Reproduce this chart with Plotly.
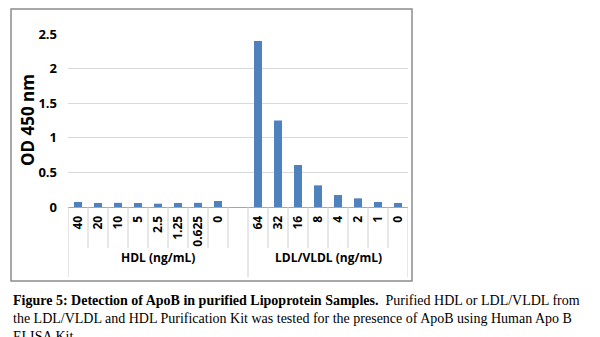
import plotly.graph_objects as go

hdl_labels = ["40", "20", "10", "5", "2.5", "1.25", "0.625", "0"]
hdl_values = [0.072, 0.058, 0.06, 0.058, 0.048, 0.058, 0.06, 0.087]
ldl_labels = ["64", "32", "16", "8", "4", "2", "1", "0"]
ldl_values = [2.40, 1.25, 0.607, 0.313, 0.173, 0.125, 0.072, 0.058]
group_labels = ["HDL (ng/mL)", "LDL/VLDL (ng/mL)"]
y_ticks = [0, 0.5, 1, 1.5, 2, 2.5]
y_ticktext = ["0", "0.5", "1", "1.5", "2", "2.5"]

# category slots: HDL (8), one blank slot, LDL (8)
n_h = len(hdl_labels)
x_h = list(range(n_h))
x_l = [n_h + 1 + i for i in range(len(ldl_labels))]
n_slots = n_h + 1 + len(ldl_labels)

W, H = 600, 337
L, R, T, B = 68, 192, 34, 130
pw, ph = W - L - R, H - T - B

def px_x(p):
    return (p - L) / pw

def px_y(p):
    return (H - B - p) / ph

BAR = "#4F81BD"
fig = go.Figure()
fig.add_trace(go.Bar(x=x_h + x_l, y=hdl_values + ldl_values, marker_color=BAR,
                     marker_line_width=0, width=0.4))

font_family = "Open Sans"
fig.update_layout(
    width=W, height=H, margin=dict(l=L, r=R, t=T, b=B),
    paper_bgcolor="white", plot_bgcolor="white", showlegend=False,
    bargap=0.6,
    font=dict(family=font_family, color="#000000", size=12, weight="bold"),
)
fig.update_xaxes(range=[-0.5, n_slots - 0.5], tickvals=x_h + x_l,
                 ticktext=hdl_labels + ldl_labels, tickangle=-90,
                 tickfont=dict(size=12, family=font_family, weight="bold"),
                 showgrid=False, zeroline=False, showline=True,
                 linecolor="#a6a6a6", linewidth=1, ticks="", ticklabelstandoff=3)
fig.update_yaxes(range=[0, 2.5], tickvals=y_ticks, ticktext=y_ticktext,
                 tickfont=dict(size=13, family=font_family, weight="bold"),
                 showgrid=True, gridcolor="#d9d9d9", gridwidth=1,
                 zeroline=False, showline=False, ticks="", ticklabelstandoff=10)

shapes = []
y_short = px_y(248)
y_long = px_y(277)
group_edges = {-0.5, n_h + 0.5, n_slots - 0.5}
for k in range(n_slots + 1):
    xb = k - 0.5
    yb = y_long if xb in group_edges else y_short
    shapes.append(dict(type="line", xref="x", yref="paper", x0=xb, x1=xb,
                       y0=0, y1=yb, line=dict(color="#d0d0d0", width=1)))
# outer chart border
shapes.append(dict(type="rect", xref="paper", yref="paper",
                   x0=px_x(11), x1=px_x(412), y0=px_y(281), y1=px_y(9),
                   line=dict(color="#8c8c8c", width=1.5)))
fig.update_layout(shapes=shapes)

ann = []
ann.append(dict(text=group_labels[0], xref="x", yref="paper", x=(-0.5 + n_h + 0.5) / 2,
                y=px_y(268), showarrow=False, font=dict(size=12, weight="bold", family=font_family)))
ann.append(dict(text=group_labels[1], xref="x", yref="paper", x=(n_h + 0.5 + n_slots - 0.5) / 2,
                y=px_y(268), showarrow=False, font=dict(size=12, weight="bold", family=font_family)))
ann.append(dict(text="OD 450 nm", xref="paper", yref="paper", x=px_x(27), y=px_y(120),
                textangle=-90, showarrow=False, xanchor="center", yanchor="middle",
                font=dict(size=17, weight="bold", family=font_family)))

cap_font = dict(family="Liberation Serif", size=14, color="#000000", weight="normal")
caption = [
    "<b>Figure 5: Detection of ApoB in purified Lipoprotein Samples.</b>  Purified HDL or LDL/VLDL from",
    "the LDL/VLDL and HDL Purification Kit was tested for the presence of ApoB using Human Apo B",
    "ELISA Kit.",
]
cap_y = [300, 318, 336]
for t, yy in zip(caption, cap_y):
    ann.append(dict(text=t, xref="paper", yref="paper", x=px_x(11), y=px_y(yy),
                    xanchor="left", yanchor="middle", showarrow=False, font=cap_font))
fig.update_layout(annotations=ann)

fig.write_html("out.html")
